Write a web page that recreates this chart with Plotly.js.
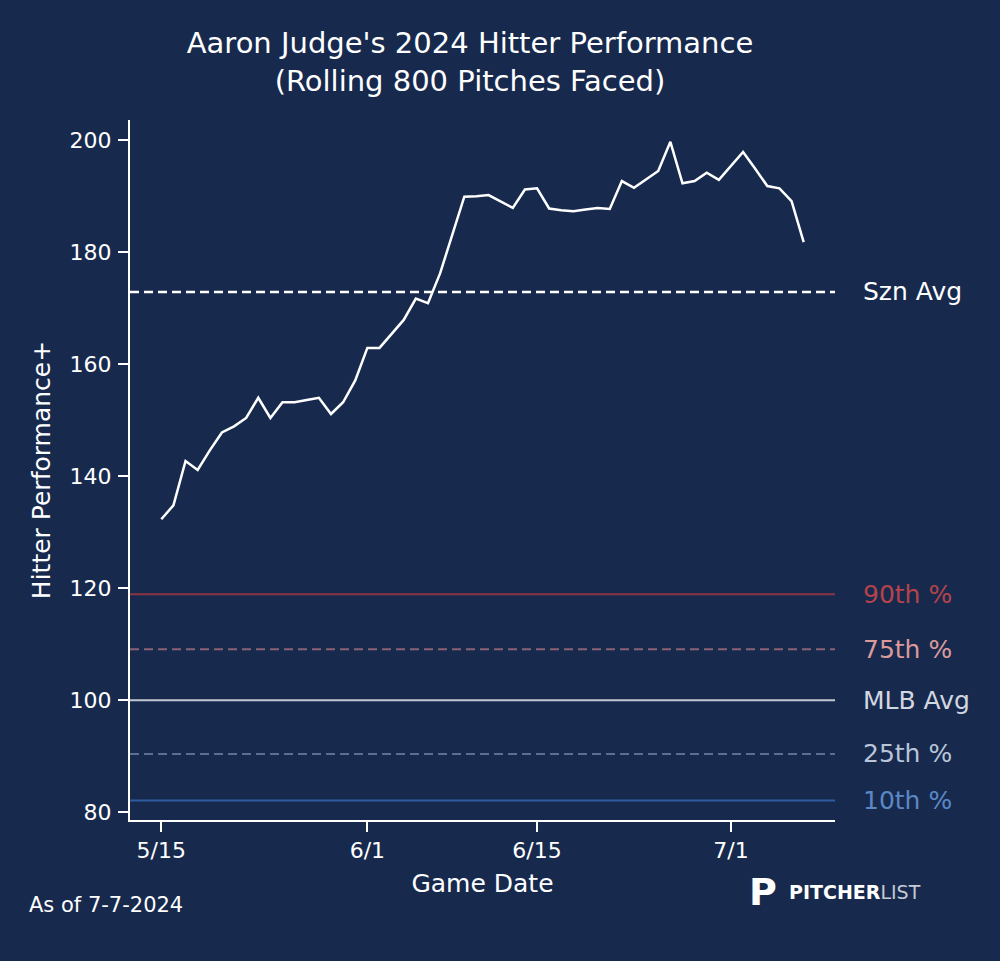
<!DOCTYPE html>
<html>
<head>
<meta charset="utf-8">
<script src="https://cdn.plot.ly/plotly-3.0.1.min.js"></script>
<style>
  html, body { margin: 0; padding: 0; background: #172a4e; }
  #chart { width: 1000px; height: 961px; }
</style>
</head>
<body>
<div id="chart"></div>
<script>
// rolling hitter performance, one value per game date
const dates = [
  "2024-05-15", "2024-05-16", "2024-05-17", "2024-05-18", "2024-05-19", "2024-05-20",
  "2024-05-21", "2024-05-22", "2024-05-23", "2024-05-24", "2024-05-25", "2024-05-26",
  "2024-05-27", "2024-05-28", "2024-05-29", "2024-05-30", "2024-05-31", "2024-06-01",
  "2024-06-02", "2024-06-03", "2024-06-04", "2024-06-05", "2024-06-06", "2024-06-07",
  "2024-06-08", "2024-06-09", "2024-06-10", "2024-06-11", "2024-06-13", "2024-06-14",
  "2024-06-15", "2024-06-16", "2024-06-17", "2024-06-18", "2024-06-19", "2024-06-20",
  "2024-06-21", "2024-06-22", "2024-06-23", "2024-06-24", "2024-06-25", "2024-06-26",
  "2024-06-27", "2024-06-28", "2024-06-29", "2024-06-30", "2024-07-01", "2024-07-02",
  "2024-07-03", "2024-07-04", "2024-07-05", "2024-07-06", "2024-07-07"
];
const perf = [
  132.3, 134.8, 142.7, 141.1, 144.6, 147.8,
  148.9, 150.4, 154.0, 150.4, 153.2, 153.2,
  153.6, 154.0, 151.1, 153.2, 157.1, 162.9,
  162.9, 165.5, 167.9, 171.7, 170.9, 176.2,
  183.0, 189.9, 190.0, 190.2, 187.9, 191.2,
  191.4, 187.8, 187.5, 187.3, 187.6, 187.9,
  187.7, 192.7, 191.5, 193.0, 194.5, 199.7,
  192.3, 192.7, 194.2, 192.9, 195.4, 197.9,
  194.9, 191.8, 191.4, 189.1, 181.8
];

// reference lines
const refNames  = ["Szn Avg", "90th %", "75th %", "MLB Avg", "25th %", "10th %"];
const refValues = [172.9, 118.9, 109.1, 100.0, 90.4, 82.1];
const refLineColors  = ["#ffffff", "#8c3540", "#8a6273", "#c2c7d1", "#5b6f92", "#2f5c9e"];
const refTextColors  = ["#ffffff", "#b5434a", "#dc9a9a", "#d3d7e0", "#b9c5d9", "#5b88c4"];
const refDash = ["9px,5px", "solid", "9px,5px", "solid", "9px,5px", "solid"];

const tickVals = ["2024-05-15", "2024-06-01", "2024-06-15", "2024-07-01"];
const tickText = ["5/15", "6/1", "6/15", "7/1"];

const xStart = "2024-05-12 10:00";
const xEnd = "2024-07-09 14:00";

let traces = [];
for (let i = 0; i < refNames.length; i++) {
    traces.push({
        x: [xStart, xEnd],
        y: [refValues[i], refValues[i]],
        type: 'scatter',
        mode: 'lines',
        hoverinfo: 'skip',
        line: { color: refLineColors[i], width: i == 0 ? 2.5 : 2, dash: refDash[i] }
    });
}
traces.push({
    x: dates,
    y: perf,
    type: 'scatter',
    mode: 'lines',
    line: { color: '#ffffff', width: 2.5 }
});

let annotations = [];
for (let i = 0; i < refNames.length; i++) {
    annotations.push({
        xref: 'paper', yref: 'y',
        x: 1, y: refValues[i],
        xanchor: 'left', yanchor: 'middle',
        xshift: 26,
        showarrow: false,
        text: refNames[i],
        font: { family: 'DejaVu Sans', size: 25, color: refTextColors[i] }
    });
}
annotations.push({
    xref: 'paper', yref: 'paper', x: -0.146, y: -0.121,
    xanchor: 'left', yanchor: 'middle', showarrow: false,
    text: 'As of 7-7-2024',
    font: { family: 'DejaVu Sans', size: 21, color: '#ffffff' }
});
// pitcherlist logo
annotations.push({
    xref: 'paper', yref: 'paper', x: 0.875, y: -0.103,
    xanchor: 'left', yanchor: 'middle', showarrow: false,
    text: '<b>P</b>',
    font: { family: 'DejaVu Sans', size: 38, color: '#ffffff' }
});
annotations.push({
    xref: 'paper', yref: 'paper', x: 0.932, y: -0.103,
    xanchor: 'left', yanchor: 'middle', showarrow: false,
    text: '<b>PITCHER</b><span style="color:#c5c9d2">LIST</span>',
    font: { family: 'DejaVu Sans', size: 19, color: '#ffffff' }
});

Plotly.newPlot('chart', traces, {
    width: 1000,
    height: 961,
    showlegend: false,
    paper_bgcolor: '#172a4e',
    plot_bgcolor: '#172a4e',
    margin: { l: 130, r: 165, t: 120, b: 141 },
    font: { family: 'DejaVu Sans', color: '#ffffff' },
    title: {
        text: "Aaron Judge's 2024 Hitter Performance<br>(Rolling 800 Pitches Faced)",
        font: { family: 'DejaVu Sans', size: 29, color: '#ffffff' },
        x: 0.47, xanchor: 'center',
        y: 0.945, yanchor: 'middle'
    },
    xaxis: {
        type: 'date',
        range: [xStart, xEnd],
        tickvals: tickVals,
        ticktext: tickText,
        ticks: 'outside', ticklen: 10, tickwidth: 2, tickcolor: '#ffffff',
        tickfont: { family: 'DejaVu Sans', size: 22, color: '#ffffff' },
        showgrid: false, zeroline: false,
        showline: true, linecolor: '#ffffff', linewidth: 2,
        title: { text: 'Game Date', font: { family: 'DejaVu Sans', size: 25, color: '#ffffff' }, standoff: 12 }
    },
    yaxis: {
        range: [78.6, 203.6],
        tickvals: [80, 100, 120, 140, 160, 180, 200],
        ticks: 'outside', ticklen: 10, tickwidth: 2, tickcolor: '#ffffff',
        ticklabelstandoff: 2,
        tickfont: { family: 'DejaVu Sans', size: 22, color: '#ffffff' },
        showgrid: false, zeroline: false,
        showline: true, linecolor: '#ffffff', linewidth: 2,
        title: { text: 'Hitter Performance+', font: { family: 'DejaVu Sans', size: 25, color: '#ffffff' }, standoff: 12 }
    },
    annotations: annotations
}, { displayModeBar: false });
</script>
</body>
</html>
